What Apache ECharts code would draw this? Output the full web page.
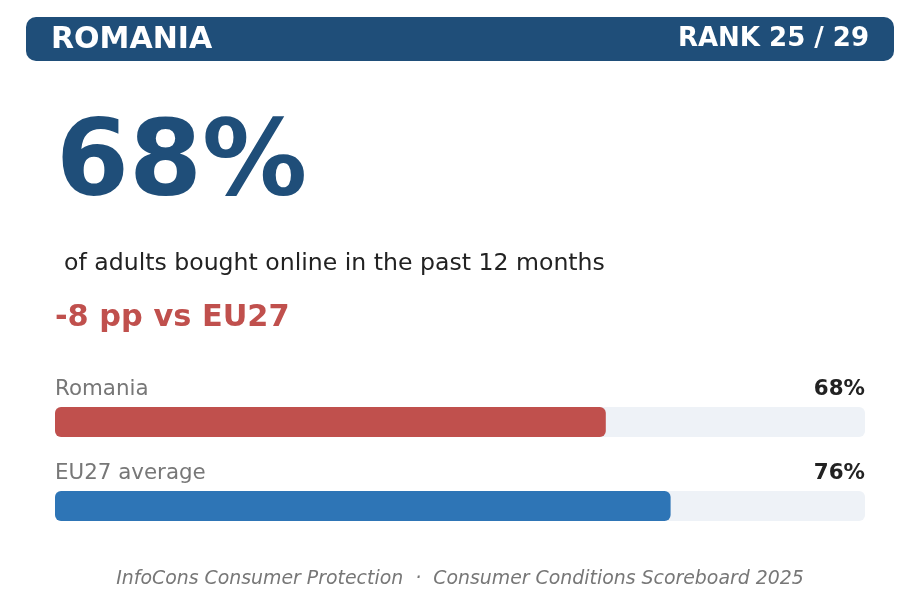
<!DOCTYPE html>
<html>
<head>
<meta charset="utf-8">
<title>Romania - online purchases</title>
<script src="https://cdn.jsdelivr.net/npm/echarts@6/dist/echarts.min.js"></script>
<style>
html,body{margin:0;padding:0;background:#fff;}
#main{width:919px;height:600px;}
</style>
</head>
<body>
<div id="main"></div>
<script>
var country = "ROMANIA";
var rankText = "RANK 25 / 29";
var categories = ["Romania", "EU27 average"];
var shares = [68, 76];
var scaleMax = [100, 100];
var subtitle = "of adults bought online in the past 12 months";
var footer = "InfoCons Consumer Protection  \u00b7  Consumer Conditions Scoreboard 2025";

var FONT = "DejaVu Sans";
var NAVY = "#1f4e79";
var diff = shares[0] - shares[1];

var chart = echarts.init(document.getElementById("main"));
var option = {
    animation: false,
    backgroundColor: "#ffffff",
    grid: {left: 55, right: 54, top: 380, height: 168},
    xAxis: {type: "value", min: 0, max: 100, show: false},
    yAxis: {type: "category", data: categories, inverse: true, show: false},
    graphic: [
        {type: "rect", shape: {x: 26, y: 17, width: 868, height: 44, r: 10}, style: {fill: NAVY}},
        {type: "text", x: 51, y: 40, style: {text: country, fill: "#fff", font: "bold 30px '" + FONT + "'", verticalAlign: "middle"}},
        {type: "text", x: 869, y: 39, style: {text: rankText, fill: "#fff", font: "bold 26px '" + FONT + "'", align: "right", verticalAlign: "middle"}},
        {type: "text", x: 56, y: 168, style: {text: shares[0] + "%", fill: NAVY, font: "bold 105px '" + FONT + "'", verticalAlign: "middle"}},
        {type: "text", x: 64, y: 264, style: {text: subtitle, fill: "#222", font: "23.6px '" + FONT + "'", verticalAlign: "middle"}},
        {type: "text", x: 55, y: 318, style: {text: (diff > 0 ? "+" : "") + diff + " pp vs EU27", fill: "#c0504d", font: "bold 30.4px '" + FONT + "'", verticalAlign: "middle"}},
        {type: "text", x: 460, y: 579, style: {text: footer, fill: "#777", font: "italic 18.9px '" + FONT + "'", align: "center", verticalAlign: "middle"}}
    ],
    series: [
        {
            type: "bar",
            data: scaleMax,
            barWidth: 30,
            barGap: "-100%",
            silent: true,
            itemStyle: {color: "#eef2f7", borderRadius: 6},
            label: {
                show: true,
                position: ["100%", -18],
                align: "right",
                verticalAlign: "middle",
                fontFamily: FONT,
                fontWeight: "bold",
                fontSize: 21.4,
                color: "#222",
                formatter: function (p) { return shares[p.dataIndex] + "%"; }
            }
        },
        {
            type: "bar",
            data: shares.map(function (v, i) {
                return {value: v, itemStyle: {color: i === 0 ? "#c0504d" : "#2e75b6"}};
            }),
            barWidth: 30,
            itemStyle: {borderRadius: 6},
            label: {
                show: true,
                position: [0, -18],
                align: "left",
                verticalAlign: "middle",
                fontFamily: FONT,
                fontSize: 21.4,
                color: "#777",
                formatter: function (p) { return p.name; }
            }
        }
    ]
};
chart.setOption(option);
</script>
</body>
</html>
